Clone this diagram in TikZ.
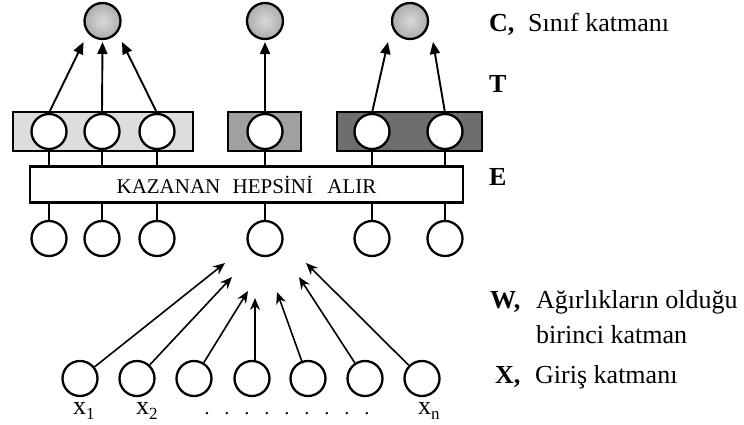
\documentclass[tikz,border=0pt]{standalone}
\usepackage{fontspec}
\setmainfont{Liberation Serif}
\usetikzlibrary{arrows.meta,calc}
\definecolor{glight}{HTML}{DDDDDD}
\definecolor{gmid}{HTML}{A0A0A0}
\definecolor{gdark}{HTML}{6E6E6E}
\begin{document}
\begin{tikzpicture}[x=1pt,y=-1pt,
 neuron/.style={circle,draw,line width=2.3pt,fill=white,minimum size=35pt,inner sep=0pt},
 classn/.style={circle,draw,line width=2.3pt,minimum size=36pt,inner sep=0pt,inner color=gray!30,outer color=gray!65},
 grp/.style={draw,line width=1.8pt,inner sep=0pt,minimum height=39pt},
 conn/.style={line width=2.2pt},
 up/.style={line width=1.9pt,-{Triangle[length=12pt,width=10pt]}},
 inarrow/.style={line width=1.6pt,-{Stealth[length=12pt,width=10pt]}},
 lbl/.style={anchor=base west,inner sep=0pt,font=\fontsize{26}{30}\selectfont},
 blbl/.style={anchor=base west,inner sep=0pt,font=\fontsize{26}{30}\selectfont\bfseries},
]
\useasboundingbox (0,0) rectangle (744,424);

% group boxes
\node[grp,fill=glight,minimum width=180pt] (g1) at (103,131.5) {};
\node[grp,fill=gmid,minimum width=73pt] (g2) at (264.5,131.5) {};
\node[grp,fill=gdark,minimum width=145pt] (g3) at (409.5,131.5) {};

% class layer
\node[classn] (c1) at (102.5,21) {};
\node[classn] (c2) at (265,21) {};
\node[classn] (c3) at (410,21) {};

% T layer and E layer
\foreach \n/\x in {1/49,2/102,3/157,4/265,5/372,6/445}{
  \node[neuron] (t\n) at (\x,131.5) {};
  \node[neuron] (e\n) at (\x,238.5) {};
}

% winner takes all
\node[draw,line width=2.2pt,minimum width=433pt,minimum height=36pt,inner sep=0pt,
      font=\fontsize{21}{24}\selectfont] (k) at (246.5,184.5)
      {KAZANAN\hspace{7pt} HEPSİNİ\hspace{9pt} ALIR};

\foreach \n in {1,...,6}{
  \draw[conn] (t\n.south) -- (t\n.south |- k.north);
  \draw[conn] (e\n.north |- k.south) -- (e\n.north);
}

% arrows to class layer
\draw[up] (t1.north) -- ([shift={(-19pt,-21pt)}]c1.center);
\draw[up] (t2.north) -- ([shift={(0pt,-21pt)}]c1.center);
\draw[up] (t3.north) -- ([shift={(19.5pt,-21pt)}]c1.center);
\draw[up] (t4.north) -- ([shift={(0pt,-21pt)}]c2.center);
\draw[up] (t5.north) -- ([shift={(-22pt,-21pt)}]c3.center);
\draw[up] (t6.north) -- ([shift={(23pt,-21pt)}]c3.center);

% input layer
\foreach \n/\x in {1/80,2/137,3/194,4/252,5/308,6/365,7/422}{
  \node[neuron] (i\n) at (\x,378.5) {};
}
\coordinate (w1) at (225,263);
\coordinate (w2) at (232,277);
\coordinate (w3) at (248,291);
\coordinate (w4) at (255,298);
\coordinate (w5) at (277,292);
\coordinate (w6) at (299,277);
\coordinate (w7) at (306,263);
\draw[inarrow] (i1) -- (w1);
\draw[inarrow] (i2) -- (w2);
\draw[inarrow] (i3) -- (w3);
\draw[inarrow] ([xshift=3pt]i4.north) -- (w4);
\draw[inarrow] (i5) -- (w5);
\draw[inarrow] (i6) -- (w6);
\draw[inarrow] (i7) -- (w7);

% input labels
\node[lbl] (x1) at (73,414) {x\raisebox{-5pt}{\fontsize{17}{17}\selectfont 1}};
\node[lbl] (x2) at (136,414) {x\raisebox{-5pt}{\fontsize{17}{17}\selectfont 2}};
\node[lbl] (xn) at (418,414) {x\raisebox{-5pt}{\fontsize{17}{17}\selectfont n}};
\node[inner sep=0pt,anchor=base,font=\fontsize{20}{24}\selectfont] (dots) at (287,414)
  {\makebox[20pt]{.}\makebox[20pt]{.}\makebox[20pt]{.}\makebox[20pt]{.}\makebox[20pt]{.}\makebox[20pt]{.}\makebox[20pt]{.}\makebox[20pt]{.}\makebox[20pt]{.}};

% right-hand labels
\node[blbl] (lc) at (489,31) {C,};
\node[lbl] (lct) at (528,31) {Sınıf katmanı};
\node[blbl] (lt) at (489,92) {T};
\node[blbl] (le) at (489,185) {E};
\node[blbl] (lw) at (490,308) {W,};
\node[lbl] (lwt) at (536,308) {Ağırlıkların olduğu};
\node[lbl] (lwt2) at (536,343) {birinci katman};
\node[blbl] (lx) at (495,383) {X,};
\node[lbl] (lxt) at (535,383) {Giriş katmanı};
\end{tikzpicture}
\end{document}
